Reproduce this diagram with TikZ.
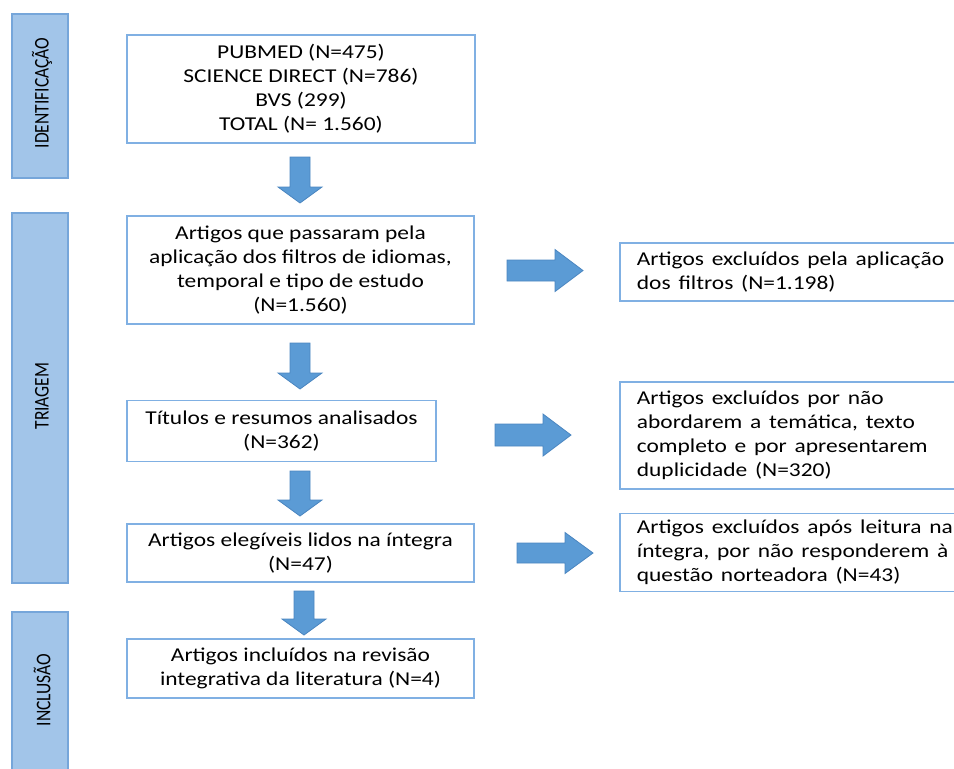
\documentclass[tikz,border=0pt]{standalone}
\usepackage{fontspec}
\setmainfont{Carlito}
\usepackage{graphicx}
\definecolor{barfill}{HTML}{A2C5E9}
\definecolor{barline}{HTML}{76A6DA}
\definecolor{boxline}{HTML}{80B0E3}
\definecolor{arrfill}{HTML}{5B9BD5}
\definecolor{arrline}{HTML}{4A85C0}
\newcommand{\sx}[1]{\scalebox{1.195}[1]{#1}}
\newcommand{\sy}[1]{\scalebox{1}[1.195]{#1}}
\newcommand{\dnarrow}[4]{\draw[blockarrow] (#1-10,#2) -- (#1+10,#2) -- (#1+10,#3) -- (#1+22,#3) -- (#1,#4) -- (#1-22,#3) -- (#1-10,#3) -- cycle;}
\newcommand{\rtarrow}[6]{\draw[blockarrow] (#1,#4-#5) -- (#3,#4-#5) -- (#3,#4-#6) -- (#2,#4) -- (#3,#4+#6) -- (#3,#4+#5) -- (#1,#4+#5) -- cycle;}
\tikzset{
  mainbox/.style={draw=boxline, line width=1.8pt, fill=white, align=center, inner sep=0pt,
    font=\fontsize{19.6}{23.9}\selectfont},
  sidebox/.style={draw=boxline, line width=1.8pt, fill=white, align=left, inner xsep=17pt, inner ysep=0pt,
    text width=315pt, anchor=west, font=\fontsize{19.6}{23.9}\selectfont},
  bar/.style={draw=barline, line width=1.6pt, fill=barfill, inner sep=0pt},
  bartext/.style={rotate=90, inner sep=0pt, font=\fontsize{17.5}{20}\selectfont},
  blockarrow/.style={fill=arrfill, draw=arrline, line width=0.8pt, line join=miter}
}
\begin{document}
\begin{tikzpicture}[x=1pt,y=-1pt]
\useasboundingbox (0,0) rectangle (954,769);
% side bars
\node[bar, minimum width=56pt, minimum height=164pt] (idbar) at (40,96) {};
\node[bartext] (idtxt) at (42,93) {\sy{IDENTIFICAÇÃO}};
\node[bar, minimum width=56pt, minimum height=370pt] (trbar) at (40,398) {};
\node[bartext] (trtxt) at (42,396) {\sy{TRIAGEM}};
\node[bar, minimum width=56pt, minimum height=170pt] (inbar) at (40,697) {};
\node[bartext] (intxt) at (42,690) {\sy{INCLUSÃO}};
% main boxes
\node[mainbox, minimum width=348pt, minimum height=108pt] (b1) at (301,89)
  {\sx{PUBMED (N=475)}\\\sx{SCIENCE DIRECT (N=786)}\\\sx{BVS (299)}\\\sx{TOTAL (N= 1.560)}};
\node[mainbox, minimum width=347pt, minimum height=108pt] (b2) at (300.5,270)
  {\sx{Artigos que passaram pela}\\\sx{aplicação dos filtros de idiomas,}\\\sx{temporal e tipo de estudo}\\\sx{(N=1.560)}};
\node[mainbox, minimum width=309pt, minimum height=61pt] (b3) at (281.5,431)
  {\sx{Títulos e resumos analisados}\\\sx{(N=362)}};
\node[mainbox, minimum width=347pt, minimum height=58pt] (b4) at (300.5,553)
  {\sx{Artigos elegíveis lidos na íntegra}\\\sx{(N=47)}};
\node[mainbox, minimum width=347pt, minimum height=59pt] (b5) at (300.5,668.5)
  {\sx{Artigos incluídos na revisão}\\\sx{integrativa da literatura (N=4)}};
% side boxes
\node[sidebox, minimum height=58pt] (r1) at (619,272)
  {\sx{Artigos excluídos pela aplicação}\\\sx{dos filtros (N=1.198)}};
\node[sidebox, minimum height=107pt] (r2) at (619,435.5)
  {\sx{Artigos excluídos por não}\\\sx{abordarem a temática, texto}\\\sx{completo e por apresentarem}\\\sx{duplicidade (N=320)}};
\node[sidebox, minimum height=78pt] (r3) at (619,552.5)
  {\sx{Artigos excluídos após leitura na}\\\sx{íntegra, por não responderem à}\\\sx{questão norteadora (N=43)}};
% down arrows
\dnarrow{300}{157}{187}{203}
\dnarrow{300}{343}{373}{389}
\dnarrow{300}{471}{500}{516}
\dnarrow{304}{591}{619}{635}
% right arrows
\rtarrow{507}{583}{555}{270.5}{10.5}{21}
\rtarrow{495}{571}{543}{435}{11}{21}
\rtarrow{517}{593}{565}{553}{10}{20.5}
\end{tikzpicture}
\end{document}
